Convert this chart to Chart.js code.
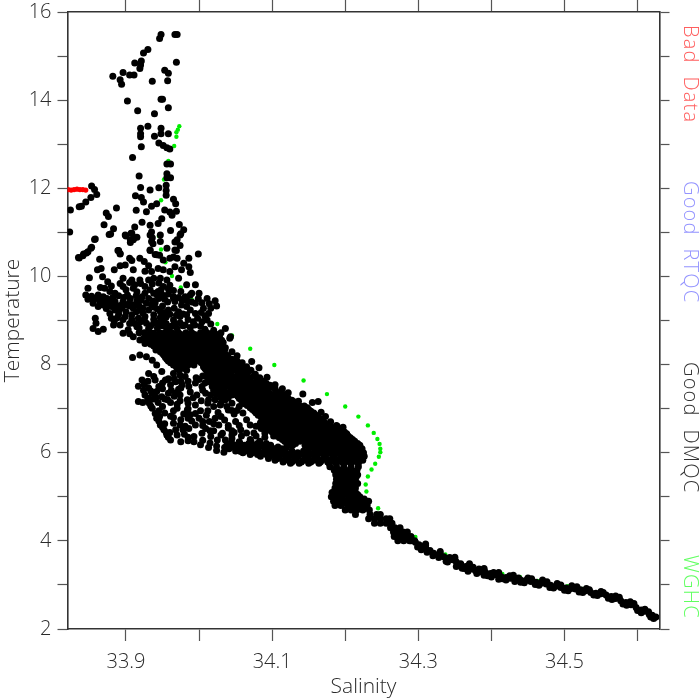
<!DOCTYPE html>
<html>
<head>
<meta charset="utf-8">
<style>
  body { margin: 0; background: #fff; }
  canvas { display: block; }
</style>
<script src="https://cdn.jsdelivr.net/npm/chart.js@4"></script>
</head>
<body>
<canvas id="chart" width="700" height="700"></canvas>
<script>
const xTickValues = [33.9, 34.0, 34.1, 34.2, 34.3, 34.4, 34.5, 34.6];
const xTickLabels = ['33.9', '', '34.1', '', '34.3', '', '34.5', ''];
const yTickValues = [2, 3, 4, 5, 6, 7, 8, 9, 10, 11, 12, 13, 14, 15, 16];
const yTickLabels = ['2', '', '4', '', '6', '', '8', '', '10', '', '12', '', '14', '', '16'];

const sideNames = ['Bad Data', 'Good RTQC', 'Good DMQC', 'WGHC'];
const sideColors = ['#ff5f5f', '#9494ff', '#333333', '#5fff5f'];

// [salinity, temperature]
const badData = [[33.821,11.97],[33.825,11.96],[33.829,11.97],[33.833,11.98],[33.837,11.97],[33.841,11.97],[33.845,11.96]];

const wghc = [
  [33.973,13.41],[33.971,13.33],[33.969,13.27],[33.969,13.17],[33.966,12.96],[33.958,12.62],[33.952,12.20],
  [33.948,11.73],[33.945,10.92],[33.948,10.61],[33.954,10.32],[33.963,10.01],[33.975,9.75],[33.990,9.47],
  [34.025,8.92],[34.045,8.66],[34.070,8.36],[34.103,7.99],[34.143,7.64],[34.175,7.33],[34.200,7.05],
  [34.218,6.82],[34.231,6.62],[34.239,6.45],[34.244,6.31],[34.247,6.20],[34.248,6.09],[34.248,6.01],
  [34.246,5.91],[34.241,5.75],[34.236,5.62],[34.231,5.46],[34.228,5.28],[34.229,5.12],[34.245,4.74],
  [34.262,4.50],[34.296,4.09],[34.337,3.69],[34.388,3.38],[34.415,3.25],[34.439,3.18],[34.463,3.09],
  [34.504,2.97],[34.525,2.91]
];

// scattered profile points, upper part of the cloud
const dmqcUpper = [
  [33.967,15.49],[33.970,15.49],[33.948,15.49],[33.946,15.40],[33.930,15.15],[33.924,15.07],[33.969,14.86],[33.921,14.89],
  [33.920,14.80],[33.919,14.72],[33.912,14.84],[33.953,14.68],[33.958,14.61],[33.896,14.63],[33.882,14.54],[33.905,14.57],
  [33.911,14.57],[33.892,14.46],[33.894,14.36],[33.936,14.43],[33.957,14.44],[33.902,13.98],[33.948,14.02],[33.950,14.02],
  [33.916,13.76],[33.958,13.83],[33.939,13.69],[33.930,13.41],[33.920,13.36],[33.948,13.36],[33.948,13.24],[33.958,13.24],
  [33.920,13.24],[33.920,13.17],[33.939,13.18],[33.945,13.03],[33.951,12.97],[33.956,12.92],[33.960,12.89],[33.921,12.94],
  [33.909,12.70],[33.956,12.55],[33.961,12.55],[33.956,12.33],[33.956,12.24],[33.961,12.24],[33.918,12.28],[33.955,12.07],
  [33.955,11.95],[33.945,12.01],[33.933,11.96],[33.920,12.02],[33.913,11.83],[33.921,11.79],[33.924,11.69],[33.955,11.84],
  [33.965,11.75],[33.968,11.65],[33.942,11.65],[33.935,11.59],[33.928,11.47],[33.887,11.55],[33.914,11.50],[33.873,11.44],
  [33.876,11.36],[33.953,11.51],[33.960,11.46],[33.969,11.48],[33.963,11.39],[33.949,11.31],[33.944,11.20],[33.922,11.23],
  [33.933,11.16],[33.870,11.17],[33.973,11.18],[33.979,11.06],[33.975,10.97],[33.961,11.04],[33.912,11.12],[33.883,11.08],
  [33.877,10.95],[33.907,10.98],[33.900,10.92],[33.935,11.01],[33.936,10.88],[33.915,10.89],[33.910,10.83],[33.906,10.77],
  [33.857,10.84],[33.937,10.74],[33.974,10.70],[33.967,10.78],[33.969,10.59],[33.889,10.59],[33.892,10.51],[33.852,10.64],
  [33.846,10.53],[33.841,10.47],[33.836,10.42],[33.933,10.59],[33.940,10.50],[33.946,10.48],[33.965,10.44],
  [33.853,12.05],[33.857,11.97],[33.860,11.86],[33.852,11.79],[33.845,11.69],[33.839,11.59],[33.836,11.58],[33.824,11.51],[33.823,11.01],
  [33.835,10.43],[33.842,10.51],[33.848,10.56],[33.853,10.66],[33.858,10.85],[33.879,10.96],[33.899,10.94],[33.908,10.98],
  [33.906,10.83],[33.911,10.87],[33.892,10.52],[33.890,10.59],[33.864,10.39],[33.866,10.18],[33.861,10.15],[33.868,9.99],
  [33.850,9.97],[33.884,10.15],[33.892,10.24],[33.899,10.26],[33.908,10.36],[33.905,10.41],[33.919,10.41],[33.925,10.34],
  [33.931,10.24],[33.935,10.11],[33.944,10.18],[33.910,10.15],[33.926,10.12],[33.896,9.96],[33.892,9.84],[33.896,9.77],
  [33.908,9.92],[33.912,9.81],[33.919,9.92],[33.931,9.92],[33.938,9.96],[33.947,9.96],[33.956,9.92],[33.848,9.73],
  [33.871,9.73],[33.845,9.58],[33.848,9.48],[33.855,9.47],[33.862,9.58],[33.869,9.54],[33.878,9.66],[33.885,9.62],
  [33.878,9.43],[33.885,9.43],[33.896,9.43],[33.902,9.58],[33.910,9.73],[33.926,9.77],[33.926,9.62],[33.922,9.54],
  [33.931,9.50],[33.928,9.39],[33.931,9.24],[33.919,9.24],[33.910,9.28],[33.938,9.62],[33.944,9.66],[33.951,9.77],
  [33.965,9.54],[33.967,9.43],[33.855,9.39],[33.862,9.32],[33.869,9.35],[33.878,9.16],[33.885,9.24],[33.894,9.28],
  [33.899,9.09],[33.908,9.13],[33.917,9.05],[33.926,9.09],[33.938,9.13],[33.947,9.20],[33.958,9.24],[33.972,9.20],
  [33.983,9.32],[33.995,9.39],[33.988,9.58],[33.999,9.50],[34.011,9.50],[34.022,9.45],[34.024,9.33],[34.006,9.28],
  [34.013,9.16],[33.995,9.16],[33.983,9.13],[33.974,9.09],[33.965,9.01],[33.951,9.01],[33.938,8.94],[33.928,8.94],
  [33.915,8.86],[33.903,8.79],[33.896,8.71],[33.880,9.05],[33.883,8.90],[33.892,8.90],[33.858,9.05],[33.859,8.94],
  [33.855,8.82],[33.862,8.75],[33.869,8.80],[33.910,8.63],[33.926,8.71],[33.938,8.71],[33.935,8.52],[33.947,8.60],
  [33.956,8.79],[33.970,8.82],[33.981,8.90],[33.992,8.97],[34.004,8.97],[34.011,9.01],[34.024,8.67],[34.036,8.82],
  [34.043,8.63],[33.999,10.51],[33.986,10.41],[33.979,10.30],[33.986,10.22],[33.976,10.15],[33.988,10.09],[33.972,9.96],
  [33.983,9.81],[33.995,9.81],[33.990,9.62],[33.981,9.54],[33.965,9.50],[33.947,10.94],[33.933,10.94],[33.935,10.79],
  [33.947,10.79],[33.956,10.64],[33.970,10.83],[33.974,10.94],[33.967,10.60],[33.933,10.60],[33.942,10.49],[33.951,10.37],
  [33.960,10.41],[33.970,10.41],[33.967,10.22],[33.960,10.11],[33.951,10.15],
  [33.940,9.40],[33.950,9.33],[33.945,9.50],[33.953,9.48],[33.905,9.40],[33.915,9.44],[33.892,9.34],[33.873,9.27],
  [33.960,9.14],[33.947,9.07],[33.938,9.03],[33.908,9.02],[33.920,8.97],[33.950,8.88],[33.962,8.87],
  [33.905,9.33],[33.918,9.33],[33.939,9.30],[33.923,9.17],[33.914,9.20],[33.890,9.14],[33.900,9.20],[33.905,8.93],
  [33.918,8.83],[33.931,8.82],[33.943,8.83],[33.974,8.95],[33.985,9.02],[33.998,9.05],[34.008,9.10],[33.966,9.28],
  [33.976,9.35],[33.957,9.42],[33.918,8.72],[33.905,8.70],[33.919,8.56],[33.926,8.48],[33.886,9.33],[33.870,9.45],
  [33.988,8.84],[34.002,8.87],[34.016,8.92],[33.972,8.72],[33.960,8.85],
  [33.853,9.55],[33.858,9.50],[33.866,9.48],[33.874,9.50],[33.882,9.52],[33.890,9.56],[33.897,9.52],[33.906,9.50],
  [33.914,9.56],[33.921,9.46],[33.937,9.44],[33.943,9.56],[33.950,9.58],[33.958,9.60],[33.972,9.52],[33.977,9.46],
  [33.984,9.45],[33.990,9.42],[34.004,9.40],[34.014,9.38],[34.003,9.18],[34.016,9.28],[33.988,9.24],[33.978,9.15],
  [33.969,9.12],[33.955,9.08],[33.943,9.26],[33.952,9.18],[33.935,9.36],[33.923,9.28],[33.912,9.36],[33.900,9.36],
  [33.890,9.22],[33.880,9.32],[33.873,9.38],[33.864,9.43],[33.896,9.02],[33.888,9.06],[33.884,8.98],[33.912,8.93],
  [33.925,9.02],[33.934,8.88],[33.944,8.95],[33.955,8.93],[33.967,8.93],[33.978,8.88],[33.994,8.90],[34.008,8.80],
  [34.020,8.78],[34.030,8.72],[33.900,9.70],[33.915,9.65],[33.933,9.70],[33.948,9.70],[33.958,9.72],[33.920,9.84],
  [33.905,9.86],[33.936,9.83],[33.945,9.85],[33.965,9.68],[33.975,9.66],[34.000,9.62],[33.960,9.80],[33.880,9.78],
  [33.865,9.75],[33.875,9.88]
];

// lower lobe below the main diagonal, read point by point
const dmqcLobe = [
  [33.909,8.16],[33.919,8.22],[33.928,8.18],[33.936,8.10],[33.942,7.99],[33.931,7.80],[33.938,7.73],[33.949,7.84],
  [33.965,7.80],[33.974,7.76],[33.981,7.73],[33.922,7.65],[33.917,7.51],[33.924,7.42],[33.926,7.31],[33.917,7.16],
  [33.923,7.14],[33.936,7.01],[33.940,6.89],[33.942,6.78],[33.947,6.63],[33.952,6.52],[33.956,6.40],[33.961,6.29],
  [33.945,7.50],[33.942,7.39],[33.936,7.35],[33.949,7.27],[33.958,7.35],[33.968,7.35],[33.974,7.31],[33.984,7.20],
  [33.997,7.31],[34.009,7.35],[34.016,7.31],[33.961,7.14],[33.970,7.01],[33.979,6.88],[33.988,6.86],[33.995,6.89],
  [34.000,6.78],[33.961,6.83],[33.965,6.67],[33.974,6.63],[33.968,6.52],[33.986,6.55],[33.995,6.63],[34.005,6.71],
  [34.014,6.71],[34.009,6.55],[34.016,6.37],[33.993,6.37],[33.993,6.25],[33.975,6.25],[34.013,6.12],[34.034,6.01],
  [34.027,6.63],[34.032,6.44],[34.045,6.40],[34.057,6.52],[34.070,6.63],[34.050,6.71],[34.048,6.88],[34.026,6.91],
  [34.029,7.08],[34.036,7.20],[34.045,7.31],[34.059,7.35],[34.013,7.20],[33.995,7.08],[33.984,6.97],[33.954,7.65],
  [33.961,7.54],[33.968,7.61],[33.977,7.54],[33.986,7.50],[33.995,7.58],[34.004,7.50],[34.013,7.61],[33.930,7.24],
  [33.938,7.22],[33.944,7.14],[33.934,7.06],[33.953,7.22],[33.972,7.44],[33.988,7.38],[34.005,7.42],[34.020,7.42],
  [34.045,6.21],[34.057,6.03],[34.036,6.29],[34.025,6.29],[34.004,6.44],[34.020,6.50],[33.980,6.42],[34.040,6.56],
  [34.142,7.33],[34.155,7.14],[34.163,7.16],[34.167,6.92],[34.197,6.58],[34.188,6.62],[34.180,6.70],[34.173,6.82],
  [34.144,7.06],[34.136,7.17],[34.122,7.36],[34.114,7.45],[34.104,7.54],[34.093,7.71],[34.082,7.93],[34.072,8.07],
  [34.052,8.20],[34.045,8.29],[34.042,8.60],
  [33.930,7.62],[33.925,7.55],[33.931,7.47],[33.934,7.40],[33.938,7.33],[33.941,7.26],[33.930,7.20],[33.932,7.12],
  [33.950,7.45],[33.962,7.42],[33.975,7.47],[33.966,7.28],[33.957,7.20],[33.974,7.18],[33.985,7.12],[33.992,7.25],
  [34.003,7.18],[34.012,7.12],[34.020,7.05],[33.985,7.00],[33.965,6.95],[33.953,6.90],[33.975,6.75],[33.990,6.72],
  [33.981,6.60],[33.960,6.46],[33.985,6.35],[34.005,6.28],[34.030,6.40],[34.045,6.32],[34.055,6.25],[34.045,6.50],
  [34.020,6.66],[34.030,6.82],[34.040,6.97],[34.045,7.12],[34.030,7.25],[34.024,7.32],[34.055,7.05],[34.060,6.90],
  [34.065,6.75],[34.078,6.60],[34.075,6.45],[34.090,6.35],[34.102,6.38],[34.090,6.45],[34.085,6.55],
  [33.945,6.72],[33.950,6.58],[33.955,6.46],[33.958,6.35],[33.953,6.66],[33.946,6.82],
  [33.965,6.80],[33.985,6.78],[34.002,6.95],[34.012,6.95],[34.010,6.85],[34.022,6.78],[34.035,6.74],[34.040,6.62],
  [34.055,6.62],[34.048,6.46],[34.065,6.45],[34.058,6.38],[34.070,6.30],[34.078,6.38],[34.015,6.22],[34.002,6.18],
  [34.024,6.15],[33.985,6.27],[34.035,6.12],[34.024,6.05],[33.970,6.40],[33.978,6.52],[34.005,6.62],[34.015,6.50],
  [33.940,7.65],[33.950,7.58],[33.958,7.68],[33.966,7.68],[33.975,7.62],[33.985,7.62],[34.000,7.66],[34.008,7.58],
  [34.018,7.50],[34.028,7.42],[34.032,7.32],[34.040,7.25],[34.022,7.20],[34.030,7.12],[34.038,7.05],[34.045,6.96],
  [34.052,6.96],[34.060,7.15],[33.970,7.10],[33.950,7.05],[33.945,6.95]
];

// dense bands: temperature of a row, then the salinities seen along it
const dmqcBand = [
  [8.72,[33.925,33.934,33.946,33.953,33.963,33.971,33.982,33.990,34.002,34.011,34.019]],
  [8.68,[33.936,33.944,33.956,33.965,33.975,33.984,33.994,34.005,34.014,34.024]],
  [8.63,[33.931,33.939,33.950,33.960,33.967,33.978,33.986,33.996,34.008,34.016,34.028]],
  [8.59,[33.924,33.935,33.945,33.954,33.964,33.973,33.982,33.992,34.001,34.011,34.019,34.025]],
  [8.55,[33.928,33.941,33.948,33.957,33.969,33.975,33.987,33.993,34.004,34.013,34.021,34.031]],
  [8.50,[33.931,33.939,33.951,33.960,33.966,33.979,33.984,33.997,34.006,34.016,34.024,34.033]],
  [8.46,[33.934,33.945,33.955,33.962,33.972,33.983,33.991,34.001,34.009,34.020,34.026]],
  [8.42,[33.938,33.948,33.958,33.967,33.976,33.986,33.994,34.005,34.013,34.023,34.032]],
  [8.38,[33.943,33.951,33.964,33.970,33.980,33.989,33.997,34.010,34.017,34.028,34.036]],
  [8.33,[33.941,33.954,33.961,33.973,33.982,33.992,34.000,34.007,34.018,34.027,34.035]],
  [8.29,[33.947,33.958,33.967,33.976,33.985,33.995,34.003,34.012,34.023,34.031]],
  [8.25,[33.950,33.960,33.969,33.978,33.987,33.994,34.004,34.015,34.021,34.034]],
  [8.21,[33.952,33.963,33.971,33.981,33.990,33.998,34.007,34.018,34.026,34.038]],
  [8.16,[33.954,33.961,33.974,33.978,33.988,34.000,34.009,34.016,34.028,34.040]],
  [8.12,[33.956,33.965,33.976,33.984,33.995,34.004,34.012,34.022,34.033,34.045]],
  [8.08,[33.958,33.968,33.979,33.990,33.999,34.007,34.016,34.026,34.041,34.052]],
  [8.04,[33.961,33.970,33.983,34.003,34.010,34.018,34.029,34.037,34.049,34.059]],
  [7.99,[33.965,33.974,33.985,33.993,34.008,34.014,34.024,34.033,34.045,34.056]],
  [7.95,[33.969,33.976,34.006,34.015,34.024,34.033,34.043,34.052,34.065]],
  [7.91,[33.970,33.980,34.008,34.018,34.029,34.040,34.049,34.062]],
  [7.87,[33.973,33.983,34.010,34.020,34.027,34.038,34.048,34.059,34.071]],
  [7.83,[34.014,34.022,34.034,34.044,34.056,34.067]],
  [7.78,[34.012,34.024,34.031,34.042,34.053,34.062,34.077]],
  [7.74,[34.005,34.015,34.023,34.034,34.045,34.054,34.066,34.075]],
  [7.70,[33.996,34.018,34.027,34.036,34.047,34.056,34.068,34.083]],
  [7.66,[34.012,34.021,34.030,34.039,34.049,34.059,34.068,34.082]],
  [7.62,[34.024,34.033,34.041,34.051,34.061,34.071,34.079,34.088]],
  [7.57,[34.020,34.030,34.043,34.052,34.062,34.073,34.083,34.092]],
  [7.53,[34.028,34.038,34.048,34.055,34.066,34.076,34.086,34.097]],
  [7.49,[34.024,34.035,34.045,34.059,34.068,34.077,34.088,34.099]],
  [7.45,[34.032,34.043,34.052,34.062,34.071,34.080,34.091,34.104]],
  [7.40,[34.034,34.046,34.054,34.064,34.074,34.084,34.093,34.105]],
  [7.36,[34.038,34.049,34.058,34.066,34.077,34.087,34.096,34.109]],
  [7.32,[34.050,34.060,34.069,34.079,34.090,34.099,34.107,34.116]],
  [7.28,[34.053,34.063,34.072,34.081,34.093,34.101,34.111,34.120]],
  [7.23,[34.055,34.065,34.075,34.084,34.095,34.104,34.114,34.122]],
  [7.19,[34.058,34.067,34.078,34.088,34.099,34.107,34.118,34.127]],
  [7.15,[34.060,34.070,34.081,34.090,34.101,34.110,34.121,34.131]],
  [7.11,[34.062,34.073,34.083,34.092,34.103,34.113,34.124,34.133]],
  [7.07,[34.066,34.076,34.086,34.095,34.106,34.116,34.126,34.137]],
  [7.02,[34.070,34.079,34.089,34.097,34.108,34.119,34.129,34.140,34.148]],
  [6.98,[34.073,34.082,34.092,34.101,34.112,34.121,34.132,34.142,34.150]],
  [6.94,[34.076,34.085,34.096,34.105,34.115,34.123,34.135,34.145,34.153]],
  [6.90,[34.078,34.088,34.099,34.108,34.117,34.128,34.138,34.148,34.157]],
  [6.85,[34.081,34.092,34.103,34.111,34.120,34.131,34.141,34.152,34.160]],
  [6.81,[34.085,34.095,34.106,34.114,34.123,34.134,34.145,34.155,34.163]],
  [6.77,[34.088,34.098,34.108,34.118,34.126,34.137,34.148,34.157,34.166]],
  [6.72,[34.086,34.096,34.102,34.112,34.122,34.130,34.141,34.150,34.161,34.169]],
  [6.68,[34.084,34.094,34.105,34.114,34.124,34.133,34.144,34.153,34.163,34.172]],
  [6.64,[34.087,34.097,34.108,34.117,34.128,34.136,34.147,34.157,34.167,34.176]],
  [6.60,[34.090,34.100,34.111,34.120,34.131,34.140,34.150,34.160,34.171,34.180,34.189]],
  [6.55,[34.093,34.103,34.114,34.123,34.134,34.143,34.153,34.163,34.174,34.183,34.192]],
  [6.51,[34.096,34.107,34.117,34.127,34.136,34.147,34.157,34.166,34.177,34.186,34.196]],
  [6.47,[34.100,34.110,34.120,34.130,34.140,34.150,34.160,34.170,34.180,34.189,34.199]],
  [6.43,[34.103,34.113,34.123,34.134,34.143,34.153,34.164,34.173,34.183,34.192,34.202]],
  [6.38,[34.106,34.117,34.127,34.137,34.147,34.157,34.167,34.176,34.186,34.196,34.204]],
  [6.34,[34.110,34.121,34.130,34.141,34.151,34.160,34.170,34.180,34.190,34.199,34.207]],
  [6.30,[34.114,34.124,34.134,34.144,34.154,34.164,34.173,34.183,34.193,34.202,34.210]],
  [6.26,[34.071,34.083,34.117,34.127,34.138,34.147,34.158,34.168,34.177,34.187,34.197,34.206,34.213]],
  [6.21,[34.042,34.056,34.068,34.080,34.092,34.120,34.132,34.150,34.160,34.170,34.180,34.190,34.200,34.210,34.217]],
  [6.17,[34.038,34.050,34.062,34.074,34.086,34.098,34.128,34.145,34.155,34.165,34.175,34.185,34.195,34.205,34.215,34.220]],
  [6.13,[34.045,34.058,34.070,34.082,34.094,34.108,34.120,34.155,34.168,34.178,34.188,34.199,34.209,34.218]],
  [6.09,[34.041,34.054,34.066,34.079,34.090,34.103,34.113,34.150,34.162,34.173,34.184,34.194,34.204,34.213,34.223]],
  [6.04,[34.050,34.064,34.076,34.090,34.101,34.113,34.127,34.143,34.158,34.171,34.182,34.193,34.203,34.213,34.222]],
  [6.00,[34.060,34.073,34.085,34.094,34.107,34.119,34.135,34.150,34.165,34.177,34.188,34.198,34.208,34.218,34.225]],
  [5.96,[34.070,34.080,34.092,34.102,34.115,34.128,34.143,34.156,34.170,34.182,34.193,34.203,34.213,34.221]],
  [5.92,[34.084,34.097,34.110,34.123,34.136,34.150,34.161,34.172,34.184,34.195,34.205,34.215,34.226]],
  [5.87,[34.095,34.108,34.120,34.133,34.147,34.162,34.174,34.186,34.197,34.208,34.219]],
  [5.83,[34.104,34.117,34.130,34.143,34.157,34.168,34.180,34.192,34.203,34.214,34.224]],
  [5.79,[34.115,34.127,34.140,34.153,34.166,34.176,34.186,34.196,34.206,34.216]],
  [5.76,[34.125,34.137,34.150,34.164,34.178,34.188,34.198,34.208,34.218]],
  [5.68,[34.179,34.188,34.198,34.208,34.218]],
  [5.60,[34.185,34.193,34.201,34.209,34.216]],
  [5.55,[34.191,34.199,34.207,34.214]],
  [5.50,[34.187,34.195,34.203,34.211,34.217]],
  [5.45,[34.192,34.200,34.208,34.215]],
  [5.40,[34.188,34.196,34.204,34.212]],
  [5.35,[34.190,34.198,34.206,34.214]],
  [5.30,[34.187,34.194,34.202,34.210,34.217]],
  [5.25,[34.190,34.197,34.204,34.212]],
  [5.20,[34.186,34.193,34.200,34.208,34.214]],
  [5.15,[34.186,34.194,34.202,34.210]],
  [5.10,[34.182,34.190,34.198,34.206,34.214]],
  [5.05,[34.184,34.192,34.200,34.210,34.217]],
  [5.00,[34.181,34.188,34.196,34.205,34.213,34.220]],
  [4.95,[34.186,34.194,34.206,34.216,34.226]],
  [4.90,[34.184,34.192,34.200,34.212,34.222,34.232]],
  [4.85,[34.190,34.198,34.208,34.218,34.226]],
  [4.80,[34.186,34.194,34.204,34.213,34.222,34.230]],
  [4.75,[34.204,34.212,34.220,34.228]],
  [4.70,[34.200,34.208,34.216,34.224,34.233]],
  [4.60,[34.214,34.234,34.243,34.248]],
  [4.50,[34.232,34.240,34.248,34.256,34.261]],
  [4.40,[34.240,34.248,34.256,34.264]],
  [4.30,[34.262,34.268,34.275]],
  [4.20,[34.266,34.272,34.279,34.285]],
  [4.10,[34.267,34.275,34.283,34.290]],
  [4.00,[34.272,34.280,34.288,34.295]]
];

const dmqcTail = [
  [34.625,2.27],[34.622,2.24],[34.620,2.31],[34.616,2.33],[34.610,2.40],[34.605,2.43],[34.598,2.49],[34.591,2.55],
  [34.584,2.60],[34.577,2.64],[34.570,2.69],[34.564,2.74],[34.557,2.77],[34.550,2.80],[34.543,2.81],[34.536,2.83],
  [34.529,2.87],[34.522,2.89],[34.515,2.91],[34.509,2.92],[34.502,2.93],[34.495,2.94],[34.488,2.97],[34.481,2.99],
  [34.475,3.02],[34.468,3.04],[34.461,3.06],[34.454,3.08],[34.447,3.10],[34.440,3.11],[34.433,3.14],[34.426,3.15],
  [34.420,3.17],[34.413,3.19],[34.406,3.23],[34.399,3.26],[34.392,3.28],[34.385,3.30],[34.378,3.33],[34.372,3.36],
  [34.365,3.42],[34.358,3.48],[34.352,3.52],[34.347,3.57],[34.341,3.60],[34.335,3.64],[34.328,3.68],[34.321,3.72],
  [34.316,3.78],[34.310,3.83],[34.305,3.87],[34.301,3.91],[34.296,3.97],[34.328,3.62],[34.320,3.66],[34.312,3.74],
  [34.304,3.80],[34.299,3.86],[34.432,3.08],[34.410,3.13],[34.390,3.22],[34.368,3.31],[34.352,3.42],
  [34.600,2.42],[34.580,2.57],[34.560,2.70],[34.540,2.77],[34.520,2.84],[34.500,2.88],[34.480,2.94],[34.460,3.01],
  [34.440,3.06],[34.420,3.11],[34.400,3.18],[34.380,3.26],[34.360,3.38],[34.340,3.52],[34.470,3.08],[34.450,3.12],
  [34.430,3.18],[34.410,3.24],[34.390,3.33],[34.370,3.42],[34.350,3.58],[34.330,3.70],[34.310,3.89],[34.290,4.00],
  [34.310,3.93],[34.330,3.76],[34.350,3.63],[34.370,3.48],[34.390,3.37],[34.410,3.28],[34.430,3.22],[34.450,3.16],
  [34.470,3.11],[34.490,3.03],[34.510,2.98],[34.530,2.92],[34.550,2.85],[34.570,2.75],[34.590,2.62],[34.610,2.45],
  [34.343,3.62],[34.338,3.54],[34.355,3.46],[34.363,3.37],[34.375,3.40],[34.383,3.36],[34.395,3.21],[34.403,3.28],
  [34.415,3.14],[34.425,3.21],[34.437,3.16],[34.445,3.05],[34.455,3.14],[34.465,2.99],[34.476,3.07],[34.485,2.93],
  [34.495,3.00],[34.505,2.87],[34.517,2.96],[34.525,2.83],[34.534,2.89],[34.545,2.76],[34.553,2.83],[34.565,2.67],
  [34.575,2.72],[34.585,2.54],[34.595,2.58],[34.605,2.37],[34.615,2.39],[34.618,2.27]
];

const dmqcPoints = dmqcUpper.concat(dmqcLobe, dmqcBand.flatMap(([t, row]) => row.map(s => [s, t])), dmqcTail);

const toXY = p => ({ x: p[0], y: p[1] });

function fixedTicks(values) {
  return scale => { scale.ticks = values.map(value => ({ value })); };
}

// stop the layout from keeping room for half a tick label at the axis ends
function fitTo(size) {
  return scale => {
    if (scale.isHorizontal()) scale.height = size; else scale.width = size;
    scale.paddingLeft = scale.paddingRight = scale.paddingTop = scale.paddingBottom = 0;
  };
}

// rotated labels down the right edge, read top to bottom
const sideLabels = {
  id: 'sideLabels',
  afterDraw(chart) {
    const ctx = chart.ctx;
    const starts = [25, 181, 362, 555];
    ctx.save();
    ctx.font = '300 20px "Open Sans"';
    ctx.letterSpacing = '1.2px';
    ctx.textBaseline = 'alphabetic';
    sideNames.forEach((name, i) => {
      ctx.save();
      ctx.translate(684, starts[i]);
      ctx.rotate(Math.PI / 2);
      ctx.fillStyle = sideColors[i];
      ctx.fillText(name.replace(' ', '  '), 0, 0);
      ctx.restore();
    });
    ctx.restore();
  }
};

const frame = { color: '#333333', width: 1.6 };
const font = { family: '"Open Sans"', size: 20, weight: 300 };
const titleFont = { family: '"Open Sans"', size: 21, weight: 300 };
const textColor = '#2a2a2a';

new Chart(document.getElementById('chart'), {
  type: 'scatter',
  data: {
    datasets: [
      { label: 'WGHC', data: wghc.map(toXY), pointRadius: 2.2, backgroundColor: '#00ee00', order: 3 },
      { label: 'Good DMQC', data: dmqcPoints.map(toXY), pointRadius: 3.5, backgroundColor: '#000000', order: 2 },
      { label: 'Bad Data', data: badData.map(toXY), pointRadius: 2.6, backgroundColor: '#ff0000', order: 1 }
    ]
  },
  plugins: [sideLabels],
  options: {
    responsive: false,
    animation: false,
    layout: { padding: 0 },
    elements: { point: { borderWidth: 0, hoverRadius: 3 } },
    plugins: { legend: { display: false }, tooltip: { enabled: false } },
    scales: {
      x: {
        type: 'linear', position: 'bottom', min: 33.82, max: 34.63,
        afterBuildTicks: fixedTicks(xTickValues),
        afterFit: fitTo(71),
        border: frame,
        grid: { drawOnChartArea: false, tickLength: 12, tickColor: '#555555', tickWidth: 1.2 },
        ticks: {
          autoSkip: false, maxRotation: 0, padding: 9, color: textColor, font,
          callback: value => xTickLabels[xTickValues.findIndex(t => Math.abs(t - value) < 1e-6)]
        },
        title: { display: true, text: 'Salinity', color: textColor, font: titleFont, padding: 0 }
      },
      xTop: {
        type: 'linear', position: 'top', min: 33.82, max: 34.63,
        afterBuildTicks: fixedTicks(xTickValues),
        afterFit: fitTo(12),
        border: frame,
        grid: { drawOnChartArea: false, tickLength: 12, tickColor: '#555555', tickWidth: 1.2 },
        ticks: { display: false }
      },
      y: {
        type: 'linear', position: 'left', min: 2, max: 16,
        afterBuildTicks: fixedTicks(yTickValues),
        afterFit: fitTo(67.5),
        border: frame,
        grid: { drawOnChartArea: false, tickLength: 10, tickColor: '#555555', tickWidth: 1.2 },
        ticks: {
          autoSkip: false, padding: 6, color: textColor, font,
          callback: value => yTickLabels[yTickValues.indexOf(value)]
        },
        title: { display: true, text: 'Temperature', color: textColor, font: titleFont, padding: 0 }
      },
      yRight: {
        type: 'linear', position: 'right', min: 2, max: 16,
        afterBuildTicks: fixedTicks(yTickValues),
        afterFit: fitTo(40.5),
        border: frame,
        grid: { drawOnChartArea: false, tickLength: 10, tickColor: '#555555', tickWidth: 1.2 },
        ticks: { display: false }
      }
    }
  }
});
</script>
</body>
</html>
